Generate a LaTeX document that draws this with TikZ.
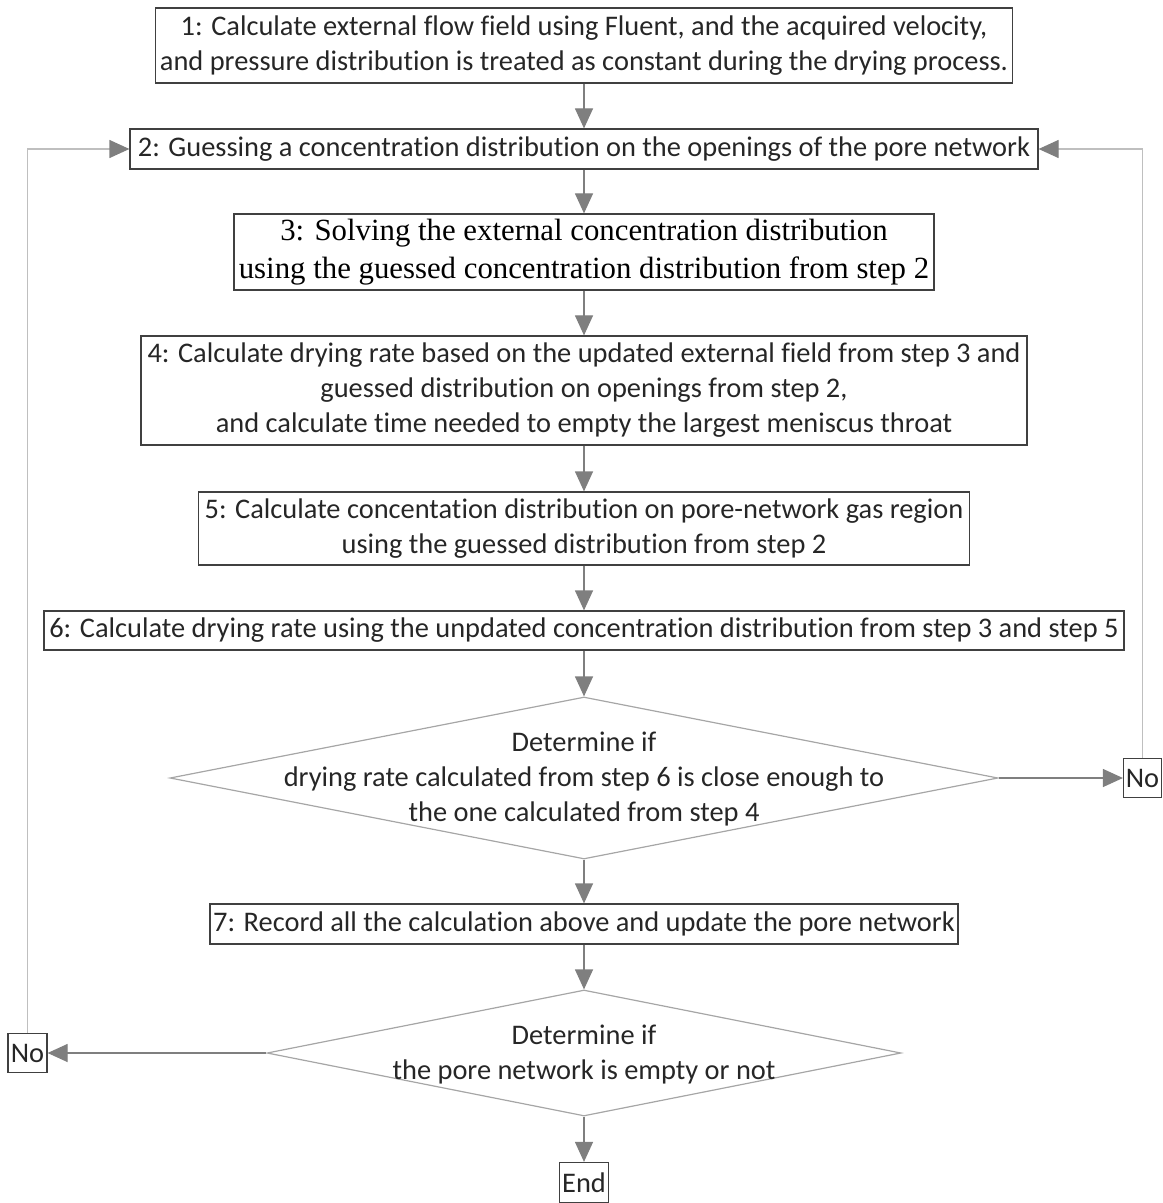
\documentclass[tikz,border=0pt]{standalone}
\usepackage{fontspec}
\setmainfont[Ligatures=NoCommon]{Carlito}
\newfontfamily\serifbox{Liberation Serif}
\usetikzlibrary{arrows.meta,shapes.geometric}
\definecolor{boxline}{RGB}{64,64,64}
\definecolor{boxtext}{RGB}{38,38,38}
\definecolor{flowgray}{RGB}{127,127,127}
\definecolor{loopgray}{RGB}{191,191,191}
\definecolor{diagray}{RGB}{166,166,166}

\begin{document}
\begin{tikzpicture}[x=0.5pt,y=0.5pt,yscale=-1,xscale=1,
  box/.style={draw=boxline, line width=0.6pt, inner sep=0pt, align=center, text=boxtext, font=\fontsize{14.2}{17.5}\selectfont},
  decision/.style={diamond, draw=diagray, line width=0.6pt, inner sep=0pt},
  dectext/.style={inner sep=0pt, align=center, text=boxtext, font=\fontsize{14.2}{17.5}\selectfont},
  flow/.style={draw=flowgray, line width=0.6pt, -{Triangle[length=10pt,width=9pt]}},
  back/.style={draw=loopgray, line width=0.6pt, -{Triangle[length=10pt,width=9pt,color=flowgray]}}]
%uncomment if require: \path (0,1203); %set diagram left start at 0, and has height of 1203
\useasboundingbox (0,0) rectangle (1162,1203);

%Shape: Rectangle
\node [box, minimum width=428.5pt, minimum height=37.5pt] (s1) at (584,45.5) {1: Calculate external flow field using Fluent, and the acquired velocity,\\and pressure distribution is treated as constant during the drying process.};
%Shape: Rectangle
\node [box, minimum width=454pt, minimum height=20pt] (s2) at (584,149) {2: Guessing a concentration distribution on the openings of the pore network};
%Shape: Rectangle
\node [box, text=black, font=\serifbox\fontsize{15.4}{19}\selectfont, minimum width=350pt, minimum height=38pt] (s3) at (584,252) {3: Solving the external concentration distribution\\using the guessed concentration distribution from step 2};
%Shape: Rectangle
\node [box, minimum width=443pt, minimum height=54.5pt] (s4) at (584,390.5) {4: Calculate drying rate based on the updated external field from step 3 and\\guessed distribution on openings from step 2,\\and calculate time needed to empty the largest meniscus throat};
%Shape: Rectangle
\node [box, minimum width=385.5pt, minimum height=36.5pt] (s5) at (584,528.5) {5: Calculate concentation distribution on pore-network gas region\\using the guessed distribution from step 2};
%Shape: Rectangle
\node [box, minimum width=540pt, minimum height=19.5pt] (s6) at (584,630.5) {6: Calculate drying rate using the unpdated concentration distribution from step 3 and step 5};

%Shape: Diamond
\node [decision, minimum width=414pt, minimum height=81pt] (d1) at (584,778) {};
% Text Node
\node [dectext] (d1text) at (584,779) {Determine if\\drying rate calculated from step 6 is close enough to\\the one calculated from step 4};

%Shape: Rectangle
\node [box, minimum width=374pt, minimum height=20pt] (s7) at (584,924) {7: Record all the calculation above and update the pore network};

%Shape: Diamond
\node [decision, minimum width=317pt, minimum height=63pt] (d2) at (584,1053) {};
% Text Node
\node [dectext] (d2text) at (584,1055) {Determine if\\the pore network is empty or not};

%Shape: Rectangle
\node [box, minimum width=24.5pt, minimum height=20pt] (end) at (584,1182.5) {End};
%Shape: Rectangle
\node [box, minimum width=19pt, minimum height=19.5pt] (noR) at (1142.5,778) {No};
%Shape: Rectangle
\node [box, minimum width=19.5pt, minimum height=19.5pt] (noL) at (27.5,1053) {No};

%Straight Lines
\draw [flow] (s1) -- (s2);
\draw [flow] (s2) -- (s3);
\draw [flow] (s3) -- (s4);
\draw [flow] (s4) -- (s5);
\draw [flow] (s5) -- (s6);
\draw [flow] (s6) -- (d1);
\draw [flow] (d1) -- (s7);
\draw [flow] (s7) -- (d2);
\draw [flow] (d2) -- (end);
\draw [flow] (d1.east) -- (noR.west);
\draw [flow] (d2.west) -- (noL.east);
%Straight Lines
\draw [back] (noR.north) |- (s2.east);
\draw [back] (noL.north) |- (s2.west);

\end{tikzpicture}
\end{document}
